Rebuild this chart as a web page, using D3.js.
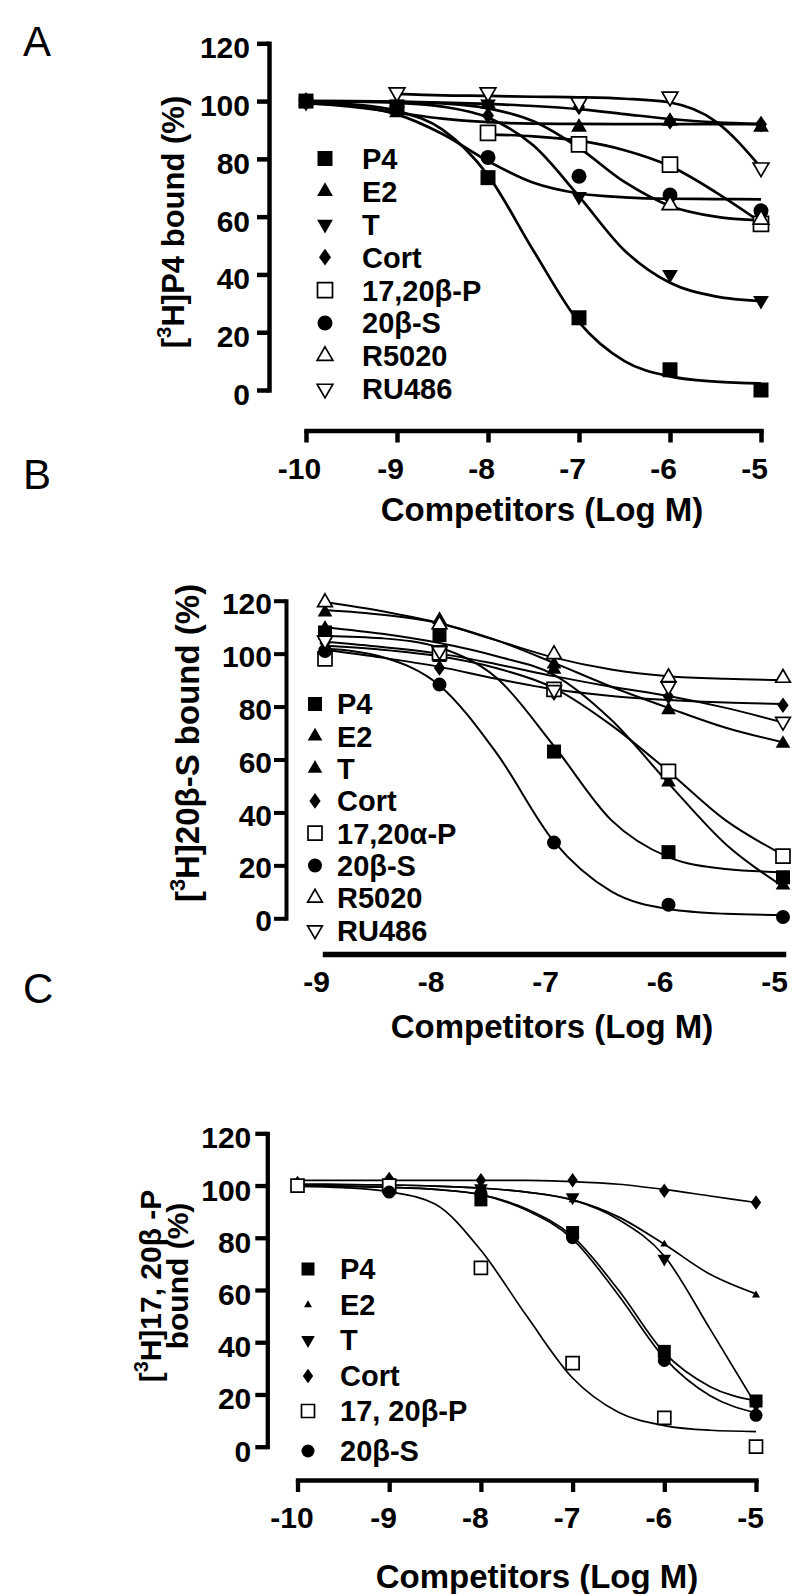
<!DOCTYPE html>
<html><head><meta charset="utf-8">
<script src="https://cdn.jsdelivr.net/npm/d3@7"></script>
<style>body{margin:0;background:#fff}svg{display:block}</style>
</head><body>
<svg id="chart" width="800" height="1594"></svg>
<script>
// ================= DATA =================
const yTicks = [0, 20, 40, 60, 80, 100, 120];

// ---- Panel A : [3H]P4 bound ----
const dosesA = [-10, -9, -8, -7, -6, -5];
const xTickLabelsA = ["-10", "-9", "-8", "-7", "-6", "-5"];
const curveXA = [-10, -9.5, -9, -8.5, -8, -7.5, -7, -6.5, -6, -5.5, -5];
const namesA = ["P4", "E2", "T", "Cort", "17,20β-P", "20β-S", "R5020", "RU486"];
const pointsA = [
  [100, 98, 73.5, 25, 7, 0],
  [100, 96, 99, 91, 93, 91],
  [99.5, 98, 99, 67, 40, 31],
  [100, 98.5, 95, 98, 93, 92],
  [null, null, 89, 85, 78, 57.5],
  [100, 98, 80.5, 74, 67.5, 62],
  [null, null, null, null, 64, 59],
  [null, 103, 103, 99.5, 101.5, 77]
];
const curvesA = [
  [99.7, 98.9, 96.6, 90.1, 74.3, 48.2, 23.5, 10.0, 4.7, 2.9, 2.3],
  [99.3, 98.1, 96.0, 93.9, 92.7, 92.2, 92.1, 92.0, 92.0, 92.0, 92.0],
  [99.9, 99.8, 99.4, 98.1, 94.3, 84.6, 67.0, 48.3, 37.1, 32.4, 30.8],
  [100, 100, 99.8, 99.5, 99.0, 98.3, 97.2, 95.5, 93.8, 92.6, 92.0],
  [null, null, null, null, 88.5, 87.8, 86.3, 83.0, 77.5, 68.5, 58.0],
  [99.5, 98.4, 95.4, 88.6, 79.2, 71.7, 68.0, 66.7, 66.2, 66.1, 66.0],
  [100, 99.9, 99.7, 99.2, 97.5, 93.0, 83.8, 72.0, 63.7, 60.0, 58.7],
  [null, null, 102.5, 102.0, 101.8, 101.5, 101.3, 100.8, 99.5, 93.0, 77.0]
];

// ---- Panel B : [3H]20β-S bound ----
const dosesB = [-9, -8, -7, -6, -5];
const xTickLabelsB = ["-9", "-8", "-7", "-6", "-5"];
const curveXB = [-9, -8.5, -8, -7.5, -7, -6.5, -6, -5.5, -5];
const namesB = ["P4", "E2", "T", "Cort", "17,20α-P", "20β-S", "R5020", "RU486"];
const pointsB = [
  [108, 107, 63, 25, 15.5],
  [115.6, 112.8, 94, 78.7, 66],
  [109.5, 98.4, 96, 51.4, 12.5],
  [104, 94.6, 85.1, 83.8, 80.5],
  [98, 100.3, 86.5, 55.5, 23.5],
  [101, 88.3, 28.6, 5.1, 0.5],
  [119.4, 111, 99.7, 91, 90.8],
  [105, 101, 86.3, 87.6, 74.3]
];
const curvesB = [
  [106.7, 105.8, 102.3, 90.8, 65.1, 37.1, 23.1, 18.6, 17.4],
  [116.5, 114.7, 111.5, 105, 96.5, 87.5, 79.5, 72, 66.5],
  [110, 107.5, 104, 99, 92, 75, 51, 28, 12],
  [101.5, 98.5, 95, 90.5, 86.5, 84, 82.5, 81.5, 81],
  [103, 101.5, 99, 94.5, 87, 73, 55.5, 37, 24],
  [101.9, 98.7, 88.0, 62.3, 29.0, 10.2, 3.5, 1.7, 1.2],
  [119.5, 116, 111.5, 105, 98.5, 94, 91.5, 90.5, 90],
  [104.5, 102.5, 100, 96, 91.5, 87.5, 84, 79.5, 74]
];

// ---- Panel C : [3H]17,20β-P bound ----
const dosesC = [-10, -9, -8, -7, -6, -5];
const xTickLabelsC = ["-10", "-9", "-8", "-7", "-6", "-5"];
const curveXC = [-10, -9.5, -9, -8.5, -8, -7.5, -7, -6.5, -6, -5.5, -5];
const namesC = ["P4", "E2", "T", "Cort", "17, 20β-P", "20β-S"];
const pointsC = [
  [100, 99, 94.5, 82, 36.5, 17.5],
  [null, 101, 100, 94.5, 77.5, 58],
  [null, 100, 99, 95.5, 72, 16],
  [101, 102.5, 102, 102, 98, 93.5],
  [100, 100, 68.5, 32, 11, 0],
  [null, 97.5, 97, 80, 33, 12]
];
const curvesC = [
  [100, 99.8, 99.3, 98.5, 96.5, 91, 80.5, 60, 36, 23, 17.5],
  [100.5, 100.4, 100.2, 99.8, 99, 97.5, 94.5, 88, 77.5, 66, 58.5],
  [100.5, 100.4, 100.2, 99.8, 99, 97.5, 94.5, 87, 73, 45, 16],
  [102, 102, 102, 102, 102, 102, 101.5, 100.5, 98.5, 96, 93.5],
  [99.7, 99.2, 97.6, 92.9, 75.2, 50.0, 26.3, 13.2, 8.1, 6.3, 5.8],
  [100, 99.8, 99.3, 98.5, 96.5, 90.5, 79.5, 58, 34, 19.5, 13]
];

// ================= STYLE =================
const markersA = ["square", "triUp", "triDown", "diamond", "openSquare", "circle", "openTriUp", "openTriDown"];
const markersB = ["square", "triUp", "triUp", "diamond", "openSquare", "circle", "openTriUp", "openTriDown"];
const markersC = ["square", "smallTriUp", "triDown", "diamond", "openSquare", "circle"];

const FONT = "'Liberation Sans', Arial, Helvetica, sans-serif";
const svg = d3.select("#chart");

function symPath(kind, s) {
  const k = kind.replace(/^open/, "").toLowerCase();
  if (k === "square") return d3.symbol(d3.symbolSquare, s * s)();
  if (k === "circle") return d3.symbol(d3.symbolCircle, Math.PI * s * s / 4)();
  if (k === "triup" || k === "tridown" || k === "smalltriup") {
    const ss = k === "smalltriup" ? s * 0.62 : s * 1.05;
    return d3.symbol(d3.symbolTriangle, Math.sqrt(3) / 4 * ss * ss)();
  }
  if (k === "diamond") { const h = s * 0.56, w = s * 0.40; return `M0,${-h}L${w},0L0,${h}L${-w},0Z`; }
}
function drawMarker(g, kind, x, y, s) {
  const open = kind.startsWith("open");
  const rot = /tridown/i.test(kind) ? 180 : 0;
  g.append("path").attr("d", symPath(kind, s))
    .attr("transform", `translate(${x},${y}) rotate(${rot})`)
    .attr("fill", open ? "#fff" : "#000")
    .attr("stroke", "#000").attr("stroke-width", open ? 1.7 : 0);
}

function yLabel(g, lines, fs) {
  lines.forEach(L => {
    const t = g.append("text")
      .attr("transform", `translate(${L.x},${L.cy}) rotate(-90)`)
      .attr("text-anchor", "middle").attr("font-family", FONT)
      .attr("font-weight", "bold").attr("font-size", fs);
    L.parts.forEach(p => {
      const ts = t.append("tspan").text(p.t);
      if (p.sup) ts.attr("font-size", fs * 0.66).attr("dy", -fs * 0.42);
      else if (p.after) ts.attr("dy", fs * 0.42);
    });
  });
}

function drawPanel(p) {
  const g = svg.append("g");
  const x = d3.scaleLinear().domain(p.xDom).range([p.x0px, p.x1px]);
  const y = d3.scaleLinear().domain([0, 120]).range([p.y0px, p.y120px]);

  g.append("text").attr("x", p.letter.x).attr("y", p.letter.y)
    .attr("font-size", p.letter.fs).attr("font-family", FONT).text(p.letter.t);

  // y axis
  const ya = g.append("g").attr("transform", `translate(${p.yAxisX},0)`)
    .call(d3.axisLeft(y).tickValues(yTicks).tickSize(p.yTickLen).tickSizeOuter(0)
      .tickPadding(p.yTickPad).tickFormat(d3.format("d")));
  ya.attr("font-family", FONT).attr("font-size", p.tickFs).attr("font-weight", "bold");
  ya.select(".domain").attr("stroke-width", p.axisW).attr("stroke-linecap", "square");
  ya.selectAll(".tick line").attr("stroke-width", p.axisW);
  ya.selectAll(".tick text").attr("dy", 0).attr("y", p.yTickDy).attr("fill", "#000");

  // x axis
  const xa = g.append("g").attr("transform", `translate(0,${p.xAxisY})`)
    .call(d3.axisBottom(x).tickValues(p.doses).tickSize(p.xTickLen).tickSizeOuter(0)
      .tickFormat((d, i) => p.xLabels[i]));
  xa.attr("font-family", FONT).attr("font-size", p.tickFs).attr("font-weight", "bold");
  xa.select(".domain").attr("stroke-width", p.xAxisW).attr("stroke-linecap", "square");
  xa.selectAll(".tick line").attr("stroke-width", p.axisW);
  xa.selectAll(".tick text").attr("dy", 0).attr("y", p.xTickY).attr("dx", p.xTickDx).attr("fill", "#000");

  // axis titles
  yLabel(g, p.yLab.lines, p.yLab.fs);
  g.append("text").attr("x", p.xLab.cx).attr("y", p.xLab.y).attr("text-anchor", "middle")
    .attr("font-family", FONT).attr("font-weight", "bold").attr("font-size", p.xLab.fs)
    .text("Competitors (Log M)");

  // legend
  p.names.forEach((n, i) => {
    const ry = p.leg.rows[i];
    drawMarker(g, p.markers[i], p.leg.mx, ry, p.leg.ms);
    g.append("text").attr("x", p.leg.tx).attr("y", ry + p.leg.fs * 0.36)
      .attr("font-family", FONT).attr("font-weight", "bold").attr("font-size", p.leg.fs).text(n);
  });

  // curves
  const line = d3.line().defined(d => d[1] != null)
    .x(d => x(d[0])).y(d => y(d[1])).curve(d3.curveMonotoneX);
  p.curves.forEach(c => {
    g.append("path").datum(p.curveX.map((xv, j) => [xv, c[j]]))
      .attr("d", line).attr("fill", "none").attr("stroke", "#000")
      .attr("stroke-width", p.lineW);
  });
  // points
  p.points.forEach((pts, i) => {
    pts.forEach((v, j) => { if (v != null) drawMarker(g, p.markers[i], x(p.doses[j]), y(v), p.ms); });
  });
}

function rows(start, step, n) { return d3.range(n).map(i => start + i * step); }

drawPanel({
  letter: { t: "A", x: 23, y: 56, fs: 42 },
  xDom: [-10, -5], x0px: 306, x1px: 761, doses: dosesA, xLabels: xTickLabelsA,
  yAxisX: 269, y0px: 390, y120px: 43.3, yTickLen: 12, yTickPad: 7, yTickDy: 14.5,
  xAxisY: 430.5, xTickLen: 12, xTickY: 48, xTickDx: -7,
  tickFs: 30, axisW: 4.5, xAxisW: 4.5, lineW: 2.7, ms: 15,
  yLab: { fs: 31, lines: [{ x: 184, cy: 222, parts: [{ t: "[" }, { t: "3", sup: true }, { t: "H]P4 bound (%)", after: true }] }] },
  xLab: { cx: 542, y: 521, fs: 33 },
  names: namesA, markers: markersA, points: pointsA, curves: curvesA, curveX: curveXA,
  leg: { mx: 325, tx: 362, rows: rows(158.5, 32.9, 8), fs: 29, ms: 15 }
});

drawPanel({
  letter: { t: "B", x: 23, y: 489, fs: 42 },
  xDom: [-9, -5], x0px: 325, x1px: 783, doses: dosesB, xLabels: xTickLabelsB,
  yAxisX: 286, y0px: 918.3, y120px: 600.7, yTickLen: 12, yTickPad: 2, yTickDy: 12.6,
  xAxisY: 954, xTickLen: 0, xTickY: 38, xTickDx: -9,
  tickFs: 30, axisW: 4, xAxisW: 5.5, lineW: 2, ms: 14,
  yLab: { fs: 33, lines: [{ x: 199, cy: 743, parts: [{ t: "[" }, { t: "3", sup: true }, { t: "H]20β-S bound (%)", after: true }] }] },
  xLab: { cx: 552, y: 1038, fs: 33 },
  names: namesB, markers: markersB, points: pointsB, curves: curvesB, curveX: curveXB,
  leg: { mx: 315, tx: 337, rows: rows(704, 32.3, 8), fs: 29, ms: 14 }
});

drawPanel({
  letter: { t: "C", x: 23, y: 1003, fs: 42 },
  xDom: [-10, -5], x0px: 297.5, x1px: 756, doses: dosesC, xLabels: xTickLabelsC,
  yAxisX: 267.3, y0px: 1446.7, y120px: 1133.3, yTickLen: 12, yTickPad: 4, yTickDy: 14.5,
  xAxisY: 1480, xTickLen: 12, xTickY: 48, xTickDx: -6,
  tickFs: 30, axisW: 4.3, xAxisW: 4.3, lineW: 1.7, ms: 13,
  yLab: { fs: 30, lines: [
    { x: 161, cy: 1286, parts: [{ t: "[" }, { t: "3", sup: true }, { t: "H]17, 20β -P", after: true }] },
    { x: 188, cy: 1276, parts: [{ t: "bound (%)" }] }
  ] },
  xLab: { cx: 537, y: 1588, fs: 33 },
  names: namesC, markers: markersC, points: pointsC, curves: curvesC, curveX: curveXC,
  leg: { mx: 308, tx: 340, rows: [1269, 1305, 1340, 1376, 1411, 1451], fs: 29, ms: 13 }
});
</script>
</body></html>
